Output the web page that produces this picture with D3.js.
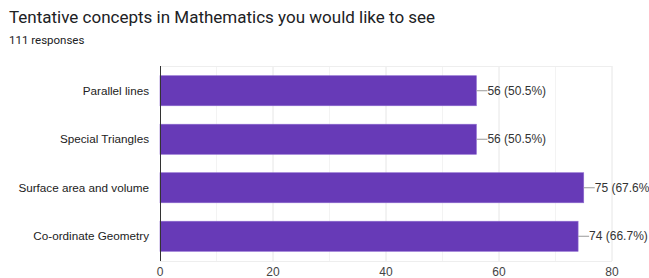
<!DOCTYPE html>
<html>
<head>
<meta charset="utf-8">
<script src="https://cdn.jsdelivr.net/npm/d3@7"></script>
<style>
  body { margin: 0; background: #fff; }
  svg { display: block; }
</style>
</head>
<body>
<svg id="svg"></svg>
<script>
// chart data
const categories = ["Parallel lines", "Special Triangles", "Surface area and volume", "Co-ordinate Geometry"];
const counts = [56, 56, 75, 74];
const percents = ["50.5%", "50.5%", "67.6%", "66.7%"];
const xTicks = [0, 20, 40, 60, 80];
const minorTicks = [10, 30, 50, 70];

const w = 649;
const h = 278;
const margin = {left: 160, right: 37, top: 66, bottom: 17};

const svg = d3.select("#svg")
  .attr("width", w)
  .attr("height", h);

svg.append("text")
  .attr("x", 9)
  .attr("y", 23)
  .attr("font-family", "Roboto, Arial, sans-serif")
  .attr("font-size", 17)
  .attr("fill", "#202124")
  .text("Tentative concepts in Mathematics you would like to see");

svg.append("text")
  .attr("x", 9)
  .attr("y", 44)
  .attr("font-family", "Roboto, Arial, sans-serif")
  .attr("font-size", 11.5)
  .attr("fill", "#202124")
  .text("111 responses");

const x = d3.scaleLinear()
  .domain([0, 80])
  .range([margin.left, w - margin.right]);

const y = d3.scaleBand()
  .domain(categories)
  .range([margin.top, h - margin.bottom])
  .paddingInner(0.38)
  .paddingOuter(0.2);

// grid
svg.selectAll(".minor")
  .data(minorTicks)
  .enter()
  .append("line")
  .attr("x1", d => x(d))
  .attr("x2", d => x(d))
  .attr("y1", margin.top)
  .attr("y2", h - margin.bottom)
  .attr("stroke", "#f3f3f3");

svg.selectAll(".major")
  .data(xTicks.slice(1))
  .enter()
  .append("line")
  .attr("x1", d => x(d))
  .attr("x2", d => x(d))
  .attr("y1", margin.top)
  .attr("y2", h - margin.bottom)
  .attr("stroke", "#e6e6e6");

svg.append("line")
  .attr("x1", margin.left)
  .attr("x2", w - margin.right)
  .attr("y1", margin.top + 0.5)
  .attr("y2", margin.top + 0.5)
  .attr("stroke", "#eeeeee");

svg.append("line")
  .attr("x1", margin.left)
  .attr("x2", w - margin.right)
  .attr("y1", h - margin.bottom + 0.5)
  .attr("y2", h - margin.bottom + 0.5)
  .attr("stroke", "#eeeeee");

// bars
svg.selectAll("rect.bar")
  .data(counts)
  .enter()
  .append("rect")
  .attr("class", "bar")
  .attr("x", x(0))
  .attr("y", (d, i) => y(categories[i]))
  .attr("width", d => x(d) - x(0))
  .attr("height", y.bandwidth())
  .attr("fill", "#673ab7")
  .attr("stroke", "#8e6bd0")
  .attr("stroke-width", 0.6);

// connector lines + value labels
svg.selectAll("line.conn")
  .data(counts)
  .enter()
  .append("line")
  .attr("class", "conn")
  .attr("x1", d => x(d))
  .attr("x2", d => x(d) + 11)
  .attr("y1", (d, i) => y(categories[i]) + y.bandwidth() / 2)
  .attr("y2", (d, i) => y(categories[i]) + y.bandwidth() / 2)
  .attr("stroke", "#999");

svg.selectAll("text.val")
  .data(counts)
  .enter()
  .append("text")
  .attr("class", "val")
  .attr("x", d => x(d) + 11)
  .attr("y", (d, i) => y(categories[i]) + y.bandwidth() / 2)
  .attr("dy", "0.35em")
  .attr("font-family", "Arial, Liberation Sans, sans-serif")
  .attr("font-size", 12)
  .attr("fill", "#333")
  .text((d, i) => d + " (" + percents[i] + ")");

// category labels
svg.selectAll("text.cat")
  .data(categories)
  .enter()
  .append("text")
  .attr("class", "cat")
  .attr("x", margin.left - 11)
  .attr("y", d => y(d) + y.bandwidth() / 2)
  .attr("dy", "0.35em")
  .attr("text-anchor", "end")
  .attr("font-family", "Arial, Liberation Sans, sans-serif")
  .attr("font-size", 11.7)
  .attr("fill", "#222")
  .text(d => d);

// baseline axis
svg.append("line")
  .attr("x1", x(0) + 0.5)
  .attr("x2", x(0) + 0.5)
  .attr("y1", margin.top)
  .attr("y2", h - margin.bottom)
  .attr("stroke", "#333");

svg.selectAll("text.tick")
  .data(xTicks)
  .enter()
  .append("text")
  .attr("class", "tick")
  .attr("x", d => x(d))
  .attr("y", h - 2)
  .attr("text-anchor", "middle")
  .attr("font-family", "Arial, Liberation Sans, sans-serif")
  .attr("font-size", 12)
  .attr("fill", "#444")
  .text(d => d);
</script>
</body>
</html>
